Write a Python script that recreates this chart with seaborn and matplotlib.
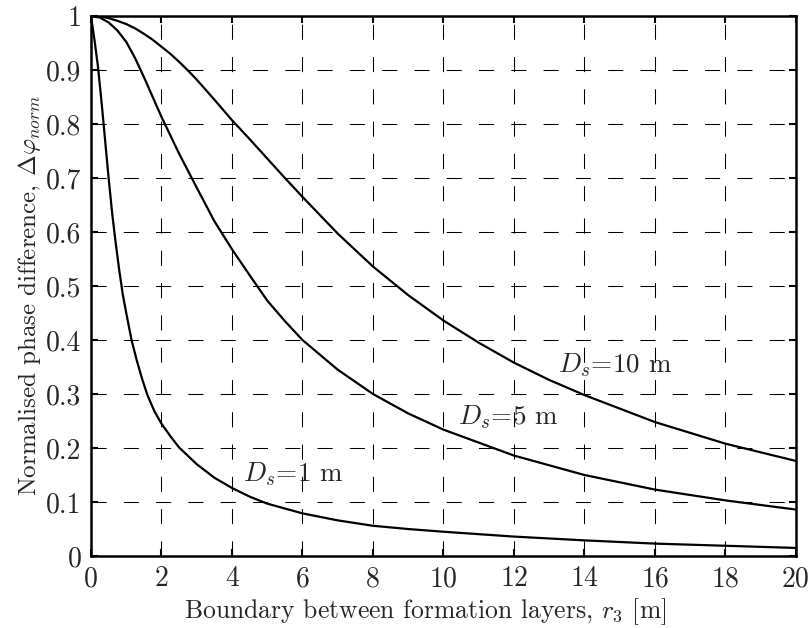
import numpy as np
import pandas as pd
import seaborn as sns
import matplotlib.pyplot as plt

# values
r_d1 = [0, 0.1, 0.2, 0.3, 0.4, 0.5, 0.6, 0.7, 0.8, 0.9, 1.0, 1.15, 1.3, 1.45, 1.6,
        1.8, 2.0, 2.25, 2.5, 3.0, 3.5, 4.0, 4.5, 5, 6, 7, 8, 9, 10, 12, 14, 16, 18, 20]
phi_d1 = [1, 0.955, 0.905, 0.84, 0.77, 0.7, 0.635, 0.58, 0.53, 0.485, 0.45, 0.4, 0.362,
          0.328, 0.298, 0.268, 0.245, 0.222, 0.201, 0.17, 0.145, 0.126, 0.11, 0.097,
          0.079, 0.066, 0.056, 0.05, 0.045, 0.036, 0.029, 0.023, 0.019, 0.015]

r_d5 = [0, 0.25, 0.5, 0.75, 1, 1.25, 1.5, 1.75, 2, 2.5, 3, 3.5, 4, 4.5, 5, 5.5, 6, 7,
        8, 9, 10, 12, 14, 16, 18, 20]
phi_d5 = [1, 0.997, 0.988, 0.973, 0.952, 0.922, 0.887, 0.85, 0.813, 0.745, 0.682,
          0.62, 0.568, 0.52, 0.473, 0.435, 0.4, 0.345, 0.3, 0.264, 0.234, 0.186,
          0.15, 0.123, 0.103, 0.086]

r_d10 = [0, 0.25, 0.5, 0.75, 1, 1.25, 1.5, 1.75, 2, 2.25, 2.5, 2.75, 3, 3.5, 4, 4.5,
         5, 5.5, 6, 7, 8, 9, 10, 11, 12, 13, 14, 16, 18, 20]
phi_d10 = [1, 0.999, 0.996, 0.991, 0.985, 0.977, 0.967, 0.956, 0.943, 0.93, 0.915,
           0.899, 0.882, 0.845, 0.807, 0.772, 0.736, 0.7, 0.665, 0.597, 0.536, 0.483,
           0.436, 0.395, 0.358, 0.326, 0.298, 0.248, 0.208, 0.176]

curve_labels = [r'$D_s$=1 m', r'$D_s$=5 m', r'$D_s$=10 m']
label_pos = [(4.32, 0.138), (10.4, 0.243), (13.25, 0.34)]

x_ticks = list(range(0, 21, 2))
y_ticks = [0, 0.1, 0.2, 0.3, 0.4, 0.5, 0.6, 0.7, 0.8, 0.9, 1]
y_ticklabels = ['0', '0.1', '0.2', '0.3', '0.4', '0.5', '0.6', '0.7', '0.8', '0.9', '1']

sns.set_style('ticks')
plt.rcParams['font.family'] = ['cmr10', 'DejaVu Serif']
plt.rcParams['mathtext.fontset'] = 'cm'
plt.rcParams['axes.unicode_minus'] = False

fig = plt.figure(figsize=(8.11, 6.28), dpi=100)
ax = fig.add_axes([0.1122, 0.1146, 0.8693, 0.86])

# dashed black grid behind the curves
ax.set_axisbelow(True)
ax.grid(True, color='black', linewidth=0.75, linestyle=(0, (14.5, 16.5)))

for r, phi in [(r_d1, phi_d1), (r_d5, phi_d5), (r_d10, phi_d10)]:
    df = pd.DataFrame({'r': r, 'phi': phi})
    sns.lineplot(data=df, x='r', y='phi', color='black', linewidth=1.6, ax=ax)

for txt, (tx, ty) in zip(curve_labels, label_pos):
    ax.text(tx, ty, txt, fontsize=19.5, ha='left', va='baseline')

ax.set_xlim(0, 20)
ax.set_ylim(0, 1)
ax.set_xticks(x_ticks)
ax.set_xticklabels([str(t) for t in x_ticks])
ax.set_yticks(y_ticks)
ax.set_yticklabels(y_ticklabels)

ax.tick_params(direction='in', top=True, right=True, length=5, width=1.5,
               labelsize=20, pad=7, color='black')
for sp in ax.spines.values():
    sp.set_linewidth(1.8)
    sp.set_color('black')

ax.set_xlabel(r'Boundary between formation layers, $r_3$ [m]', fontsize=18.5)
ax.set_ylabel(r'Normalised phase difference, $\Delta\varphi_{norm}$', fontsize=18)
ax.xaxis.set_label_coords(0.474, -0.074)
ax.yaxis.set_label_coords(-0.068, 0.482)

plt.savefig('out.png', dpi=100)
